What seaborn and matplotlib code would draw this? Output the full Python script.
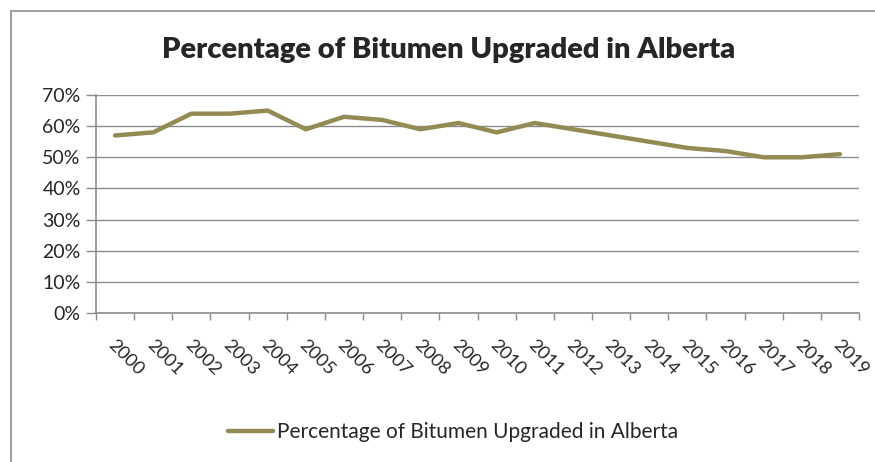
import matplotlib
matplotlib.use("Agg")
import matplotlib.pyplot as plt
import matplotlib.transforms as mtransforms
import seaborn as sns
import pandas as pd
import numpy as np
from matplotlib.patches import Rectangle
from matplotlib.ticker import FuncFormatter, FixedLocator

years = [str(y) for y in range(2000, 2020)]
values = [57, 58, 64, 64, 65, 59, 63, 62, 59, 61, 58, 61, 59, 57, 55, 53, 52, 50, 50, 51]
series_name = "Percentage of Bitumen Upgraded in Alberta"
title = "Percentage of Bitumen Upgraded in Alberta"
y_ticks = [0, 10, 20, 30, 40, 50, 60, 70]

sns.set_theme(style="white")
plt.rcParams['font.family'] = ['Lato', 'DejaVu Sans']

df = pd.DataFrame({"Year": years, "Value": values, "pos": np.arange(len(years))})

fig = plt.figure(figsize=(8.75, 4.62), dpi=100)
ax = fig.add_axes([96/875, 1-313/462, (859-96)/875, (313-95)/462])

line_color = "#948A54"
sns.lineplot(data=df, x="pos", y="Value", ax=ax, color=line_color, linewidth=3.2,
             label=series_name, legend=False)

ax.set_xlim(-0.5, len(years) - 0.5)
ax.set_ylim(0, 70)
ax.yaxis.set_major_locator(FixedLocator(y_ticks))
ax.yaxis.set_major_formatter(FuncFormatter(lambda v, p: f"{int(v)}%"))
ax.grid(axis="y", color="#8C8C8C", linewidth=1.0)
ax.set_axisbelow(True)

# x ticks at category boundaries, labels at centers
ax.set_xticks(np.arange(-0.5, len(years) + 0.5, 1.0))
ax.set_xticklabels([])
ax.set_xticks(np.arange(len(years)), minor=True)
ax.set_xticklabels(years, minor=True, rotation=-45, ha="left", va="center",
                   rotation_mode="anchor", fontsize=13.2)
ax.tick_params(axis="x", which="major", direction="out", length=5, width=1, color="#8C8C8C", bottom=True)
ax.tick_params(axis="x", which="minor", length=0, pad=21, bottom=True)
ax.tick_params(axis="y", direction="out", length=7, width=1, color="#8C8C8C", left=True, labelsize=14, pad=4)

shift = mtransforms.ScaledTranslation(-4/100, 0, fig.dpi_scale_trans)
for lbl in ax.get_xticklabels(minor=True):
    lbl.set_transform(lbl.get_transform() + shift)

for s in ["top", "right"]:
    ax.spines[s].set_visible(False)
for s in ["left", "bottom"]:
    ax.spines[s].set_color("#8C8C8C")
    ax.spines[s].set_linewidth(1.2)

ax.set_xlabel("")
ax.set_ylabel("")

fig.text(449/875, 1 - 50/462, title, ha="center", va="center", fontsize=21, fontweight="heavy")

handles, labels = ax.get_legend_handles_labels()
fig.legend(handles, labels, loc="center", bbox_to_anchor=(453/875, 1 - 432/462), frameon=False,
           fontsize=15, handlelength=2.15, handletextpad=0.2)

rect = Rectangle((11/875, -0.1), 2.0, (1 - 11/462) + 0.1, transform=fig.transFigure,
                 fill=False, edgecolor="#8C8C8C", linewidth=1.2, clip_on=False)
fig.patches.append(rect)

fig.savefig("out.png", dpi=100)
